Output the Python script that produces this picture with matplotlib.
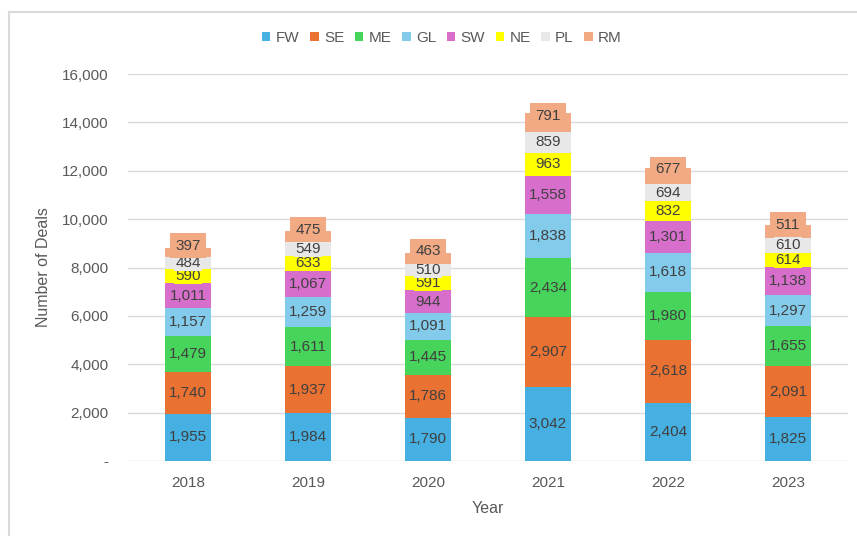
import matplotlib.pyplot as plt
import numpy as np
from matplotlib.lines import Line2D

plt.rcParams['font.family'] = ['Liberation Sans', 'DejaVu Sans']

years = ['2018', '2019', '2020', '2021', '2022', '2023']
regions = ['FW', 'SE', 'ME', 'GL', 'SW', 'NE', 'PL', 'RM']
fw = [1955, 1984, 1790, 3042, 2404, 1825]
se = [1740, 1937, 1786, 2907, 2618, 2091]
me = [1479, 1611, 1445, 2434, 1980, 1655]
gl = [1157, 1259, 1091, 1838, 1618, 1297]
sw = [1011, 1067, 944, 1558, 1301, 1138]
ne = [590, 633, 591, 963, 832, 614]
pl = [484, 549, 510, 859, 694, 610]
rm = [397, 475, 463, 791, 677, 511]
colors = ['#45B0E1', '#E97132', '#47D45A', '#83CBEB', '#D86ECC', '#FFFF00', '#E8E8E8', '#F2AA84']

series = [fw, se, me, gl, sw, ne, pl, rm]
label_col = '#404040'
tick_col = '#595959'

fig = plt.figure(figsize=(8.57, 5.36), dpi=100)
ax = fig.add_axes([128 / 857, 75 / 536, 720 / 857, 387 / 536])

x = np.arange(len(years))
bottom = np.zeros(len(years))
for name, vals, col in zip(regions, series, colors):
    vals = np.array(vals, dtype=float)
    ax.bar(x, vals, 0.39, bottom=bottom, color=col, label=name, zorder=2)
    top_seg = name == 'RM'
    for xi, b, v in zip(x, bottom, vals):
        ax.annotate(f'{int(v):,}', xy=(xi, b + v / 2), xytext=(0, 5 if top_seg else 0),
                    textcoords='offset points', ha='center', va='center',
                    fontsize=11, color=label_col, zorder=3,
                    bbox=dict(boxstyle='square,pad=%s' % (0.35 if top_seg else 0.05),
                              fc=col, ec='none'))
    bottom += vals

ax.set_xlim(-0.5, 5.5)
ax.set_ylim(0, 16000)
ax.set_yticks(range(0, 16001, 2000))
ax.set_yticklabels(['-'] + [f'{v:,}' for v in range(2000, 16001, 2000)])
ax.set_xticks(x)
ax.set_xticklabels(years)
ax.tick_params(length=0, colors=tick_col, labelsize=11)
ax.tick_params(axis='y', pad=14)
ax.tick_params(axis='x', pad=11)
ax.grid(axis='y', color='#D9D9D9', lw=1, zorder=0)
for s in ax.spines.values():
    s.set_visible(False)
ax.set_xlabel('Year', fontsize=11.5, color=tick_col, labelpad=8)
ax.set_ylabel('Number of Deals', fontsize=11.5, color=tick_col, labelpad=8)

leg_x = (442 - 128) / 720
leg_y = (536 - 38 - 75) / 387
ax.legend(loc='center', bbox_to_anchor=(leg_x, leg_y), ncol=8,
          frameon=False, fontsize=11, handlelength=0.55, handleheight=0.55,
          handletextpad=0.35, columnspacing=0.7, labelcolor=tick_col)

# outer chart border (left and top)
fig.add_artist(Line2D([9 / 857, 9 / 857], [0, 1 - 11.5 / 536], color='#D9D9D9', lw=1.5,
                      transform=fig.transFigure))
fig.add_artist(Line2D([9 / 857, 1], [1 - 11.5 / 536, 1 - 11.5 / 536], color='#D9D9D9',
                      lw=1.5, transform=fig.transFigure))

fig.savefig('out.png', dpi=100)
